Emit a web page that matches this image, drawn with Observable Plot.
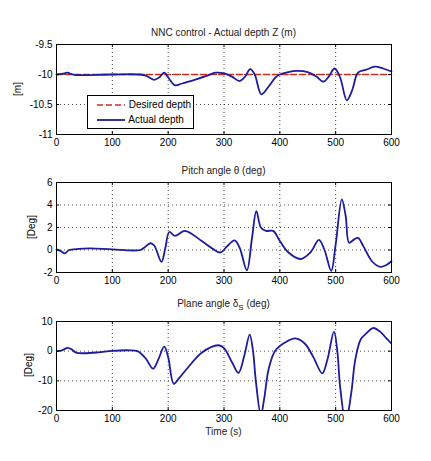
<!DOCTYPE html>
<html>
<head>
<meta charset="utf-8">
<script src="https://cdn.jsdelivr.net/npm/d3@7"></script>
<script src="https://cdn.jsdelivr.net/npm/@observablehq/plot@0.6"></script>
<style>
  html, body { margin: 0; padding: 0; background: #fff; }
  #wrap { position: relative; width: 431px; height: 461px; font-family: "Liberation Sans", Arial, sans-serif; color: #000; }
  .panel { position: absolute; left: 0; }
  .title { position: absolute; left: 56px; width: 335px; text-align: center; font-size: 10px; line-height: 12px; color: #222; }
  .ylab { position: absolute; width: 100px; text-align: center; font-size: 10px; line-height: 12px; transform: rotate(-90deg); transform-origin: 50% 50%; }
  .legend { position: absolute; left: 87px; top: 95px; width: 105px; height: 32px; border: 1px solid #000; background: #fff; font-size: 10px; }
  .legend .row { position: absolute; left: 8px; height: 12px; line-height: 12px; }
  .legend svg { vertical-align: middle; }
</style>
</head>
<body>
<div id="wrap"></div>
<script>
// ---- data ----
const xTicks = [0, 100, 200, 300, 400, 500, 600];

const depthTicks = [-11, -10.5, -10, -9.5];
const desiredTime = [0, 600];
const desiredDepth = [-10, -10];
const depthTime = [0, 10, 20, 25, 35, 50, 100, 150, 160, 175, 185, 193, 200, 212, 225, 250, 270, 285, 300, 315, 328, 338, 347, 355, 367, 380, 392, 400, 415, 430, 450, 465, 478, 488, 498, 508, 520, 530, 540, 555, 570, 585, 600];
const depthValue = [-10, -9.99, -9.97, -9.99, -10.01, -10.01, -10, -10, -10.02, -10.09, -10.04, -9.97, -10.05, -10.18, -10.15, -10.08, -10.02, -9.97, -9.98, -10.04, -10.11, -10.03, -9.91, -10.0, -10.33, -10.2, -10.05, -10.0, -9.96, -9.94, -9.96, -10.03, -10.12, -10.03, -9.9, -10.05, -10.43, -10.25, -9.97, -9.92, -9.87, -9.9, -9.95];

const pitchTicks = [-2, 0, 2, 4, 6];
const pitchTime = [0, 8, 15, 22, 30, 60, 100, 150, 158, 168, 175, 188, 195, 202, 212, 230, 260, 280, 294, 305, 319, 328, 341, 350, 358, 366, 375, 388, 400, 415, 437, 455, 470, 480, 492, 500, 511, 518, 524, 532, 540, 550, 565, 580, 590, 600];
const pitchValue = [0.05, -0.1, -0.3, 0, 0.05, 0.15, 0.05, 0, 0.25, 0.6, 0.4, -1.05, 0.2, 1.6, 1.25, 1.7, 0.8, 0.1, -0.22, 0.3, 0.85, 0.2, -1.8, 1.0, 3.45, 2.0, 1.7, 1.7, 0.8, -0.2, -0.8, -0.2, 0.9, 0, -1.85, 0.5, 4.5, 3.0, 0.65, 0.9, 1.07, 0.3, -1.0, -1.5, -1.35, -1.0];

const planeTicks = [-20, -10, 0, 10];
const planeTime = [0, 10, 20, 28, 35, 50, 75, 100, 130, 145, 160, 173, 183, 193, 200, 210, 220, 240, 260, 290, 300, 315, 326, 337, 346, 352, 357, 366, 372, 380, 392, 410, 428, 445, 460, 476, 485, 497, 503, 508, 518, 528, 535, 545, 555, 567, 580, 590, 600];
const planeValue = [0, 0.3, 1.1, 0.5, -0.5, -0.7, -0.4, 0.1, 0.3, 0, -2.5, -5.9, -2.5, 1.5, -2, -11, -9, -4.5, -0.5, 2, 1, -4, -7.3, -1, 5.6, 0, -10, -21.5, -16, -6, 0.2, 3, 4.3, 2.5, -2, -7.5, -3, 6.6, 0, -12, -24, -14, -3, 4, 6, 7.8, 6.5, 4.5, 2.5];

const lineColor = "#1c1c9c";
const desiredColor = "#d42a1e";

function rows(t, v) { return t.map((x, i) => ({t: x, v: v[i]})); }
const plain = d => String(d);

function panel({top, height, marginTop, marginBottom, yDomain, yTicks, series}) {
  const fh = height - marginTop - marginBottom;
  const fw = 431 - 56 - 40;
  const marks = [
    Plot.gridX(xTicks, {stroke: "#000", strokeOpacity: 0.7, strokeDasharray: "1,3"}),
    Plot.gridY(yTicks, {stroke: "#000", strokeOpacity: 0.7, strokeDasharray: "1,3"}),
    ...series,
    Plot.frame({stroke: "#000", strokeWidth: 1}),
    // inward tick marks on all four sides
    Plot.tickX(xTicks, {x: d => d, insetTop: fh - 3, stroke: "#000"}),
    Plot.tickX(xTicks, {x: d => d, insetBottom: fh - 3, stroke: "#000"}),
    Plot.tickY(yTicks, {y: d => d, insetRight: fw - 3, stroke: "#000"}),
    Plot.tickY(yTicks, {y: d => d, insetLeft: fw - 3, stroke: "#000"}),
    Plot.axisX(xTicks, {anchor: "bottom", tickSize: 0, tickPadding: 4, label: null, fontSize: 10, tickFormat: plain}),
    Plot.axisY(yTicks, {anchor: "left", tickSize: 0, tickPadding: 4, label: null, fontSize: 10, tickFormat: plain})
  ];
  const p = Plot.plot({
    width: 431, height,
    marginLeft: 56, marginRight: 40, marginTop, marginBottom,
    x: {domain: [0, 600]},
    y: {domain: yDomain},
    style: {fontFamily: "Liberation Sans, Arial, sans-serif", fontSize: "10px", color: "#000", background: "transparent", overflow: "visible"},
    marks
  });
  p.classList.add("panel");
  p.style.top = top + "px";
  return p;
}

const wrap = document.getElementById("wrap");

wrap.appendChild(panel({
  top: 0, height: 150, marginTop: 44, marginBottom: 16,
  yDomain: [-11, -9.5], yTicks: depthTicks,
  series: [
    Plot.line(rows(desiredTime, desiredDepth), {x: "t", y: "v", stroke: desiredColor, strokeWidth: 1.6, strokeDasharray: "6,3"}),
    Plot.line(rows(depthTime, depthValue), {x: "t", y: "v", stroke: lineColor, strokeWidth: 1.8, curve: "catmull-rom"})
  ]
}));

wrap.appendChild(panel({
  top: 150, height: 150, marginTop: 32, marginBottom: 28,
  yDomain: [-2, 6], yTicks: pitchTicks,
  series: [
    Plot.line(rows(pitchTime, pitchValue), {x: "t", y: "v", stroke: lineColor, strokeWidth: 1.8, curve: "catmull-rom"})
  ]
}));

wrap.appendChild(panel({
  top: 300, height: 161, marginTop: 21, marginBottom: 51,
  yDomain: [-20, 10], yTicks: planeTicks,
  series: [
    Plot.line(rows(planeTime, planeValue), {x: "t", y: "v", stroke: lineColor, strokeWidth: 1.8, curve: "catmull-rom", clip: true})
  ]
}));

function addDiv(cls, html, style) {
  const d = document.createElement("div");
  d.className = cls;
  d.innerHTML = html;
  Object.assign(d.style, style);
  wrap.appendChild(d);
  return d;
}

addDiv("title", "NNC control - Actual depth Z (m)", {top: "27px"});
addDiv("title", "Pitch angle &theta; (deg)", {top: "165px"});
addDiv("title", "Plane angle &delta;<sub style=\"font-size:8px\">S</sub> (deg)", {top: "298px"});
addDiv("title", "Time (s)", {top: "426px"});

addDiv("ylab", "[m]", {left: (18 - 50) + "px", top: (89 - 6) + "px"});
addDiv("ylab", "[Deg]", {left: (32 - 50) + "px", top: (227 - 6) + "px"});
addDiv("ylab", "[Deg]", {left: (29 - 50) + "px", top: (365 - 6) + "px"});

const leg = addDiv("legend", "", {});
leg.innerHTML =
  '<div class="row" style="top:3px"><svg width="30" height="12"><line x1="1" x2="29" y1="6" y2="6" stroke="' + desiredColor + '" stroke-width="1.6" stroke-dasharray="6,3"/></svg> Desired depth</div>' +
  '<div class="row" style="top:18px"><svg width="30" height="12"><line x1="1" x2="29" y1="6" y2="6" stroke="' + lineColor + '" stroke-width="1.8"/></svg> Actual depth</div>';
</script>
</body>
</html>
